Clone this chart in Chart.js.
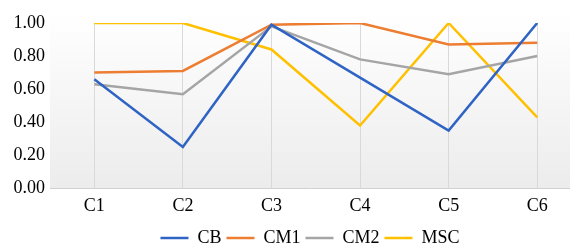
<!DOCTYPE html>
<html lang="en">
<head>
    <meta charset="UTF-8">
    <title>CB / CM1 / CM2 / MSC</title>
    <script src="https://cdn.jsdelivr.net/npm/chart.js"></script>
    <style>
        body { margin: 0; padding: 0; background: #fff; overflow: hidden; }
        /* a bit taller than the window so the legend sits near the bottom edge */
        .wrap { width: 570px; height: 260px; position: relative; }
    </style>
</head>
<body>
    <div class="wrap"><canvas id="lineChart"></canvas></div>

    <script>
        // categories and series
        const categories = ['C1', 'C2', 'C3', 'C4', 'C5', 'C6'];
        const seriesNames = ['CB', 'CM1', 'CM2', 'MSC'];
        const cb  = [0.66, 0.25, 0.99, 0.67, 0.35, 1.00];
        const cm1 = [0.70, 0.71, 0.99, 1.00, 0.87, 0.88];
        const cm2 = [0.63, 0.57, 0.98, 0.78, 0.69, 0.80];
        const msc = [1.00, 1.00, 0.84, 0.38, 1.00, 0.43];
        const yTicks = [0, 0.2, 0.4, 0.6, 0.8, 1.0];

        const colors = ['#2F64C4', '#ED7D31', '#A5A5A5', '#FFC000'];
        const allSeries = [cb, cm1, cm2, msc];

        // plot area background (light gradient like the original)
        const plotBg = {
            id: 'plotBg',
            beforeDraw(chart) {
                const { ctx, chartArea: a } = chart;
                const top = a.top - 10;
                const g = ctx.createLinearGradient(0, top, 0, a.bottom);
                g.addColorStop(0, '#ffffff');
                g.addColorStop(1, '#ececec');
                ctx.save();
                ctx.fillStyle = g;
                ctx.fillRect(a.left, top, a.right - a.left, a.bottom - top);
                ctx.restore();
            }
        };

        const ctx = document.getElementById('lineChart').getContext('2d');
        const chart = new Chart(ctx, {
            type: 'line',
            data: {
                datasets: seriesNames.map((name, i) => ({
                    label: name,
                    data: allSeries[i].map((v, k) => ({ x: k + 1, y: v })),
                    borderColor: colors[i],
                    backgroundColor: colors[i],
                    borderWidth: 2.5,
                    pointRadius: 0,
                    tension: 0
                }))
            },
            options: {
                responsive: true,
                maintainAspectRatio: false,
                animation: false,
                layout: { padding: { top: 23, right: 0, left: 0, bottom: 3 } },
                scales: {
                    x: {
                        type: 'linear',
                        min: 0.5,
                        max: 6.37,
                        afterBuildTicks: (axis) => {
                            axis.ticks = categories.map((c, i) => ({ value: i + 1 }));
                        },
                        ticks: {
                            callback: (v) => categories[v - 1] || '',
                            color: '#000',
                            font: { family: 'Liberation Serif', size: 18 },
                            padding: 7,
                            maxRotation: 0
                        },
                        grid: { color: '#d9d9d9', drawTicks: false, lineWidth: 1 },
                        border: { color: '#d0d0d0' }
                    },
                    y: {
                        min: 0,
                        max: 1,
                        afterBuildTicks: (axis) => {
                            axis.ticks = yTicks.map(v => ({ value: v }));
                        },
                        afterFit: (axis) => { axis.width = 50; },
                        ticks: {
                            callback: (v) => v.toFixed(2),
                            color: '#000',
                            font: { family: 'Liberation Serif', size: 18 },
                            padding: 5
                        },
                        grid: { display: false, drawTicks: false },
                        border: { display: false }
                    }
                },
                plugins: {
                    legend: {
                        position: 'bottom',
                        fullSize: false,
                        labels: {
                            usePointStyle: true,
                            pointStyle: 'line',
                            pointStyleWidth: 28,
                            boxHeight: 18,
                            padding: 5,
                            color: '#000',
                            font: { family: 'Liberation Serif', size: 18, lineHeight: 1 }
                        }
                    },
                    tooltip: { enabled: false }
                }
            },
            plugins: [plotBg]
        });
    </script>
</body>
</html>
